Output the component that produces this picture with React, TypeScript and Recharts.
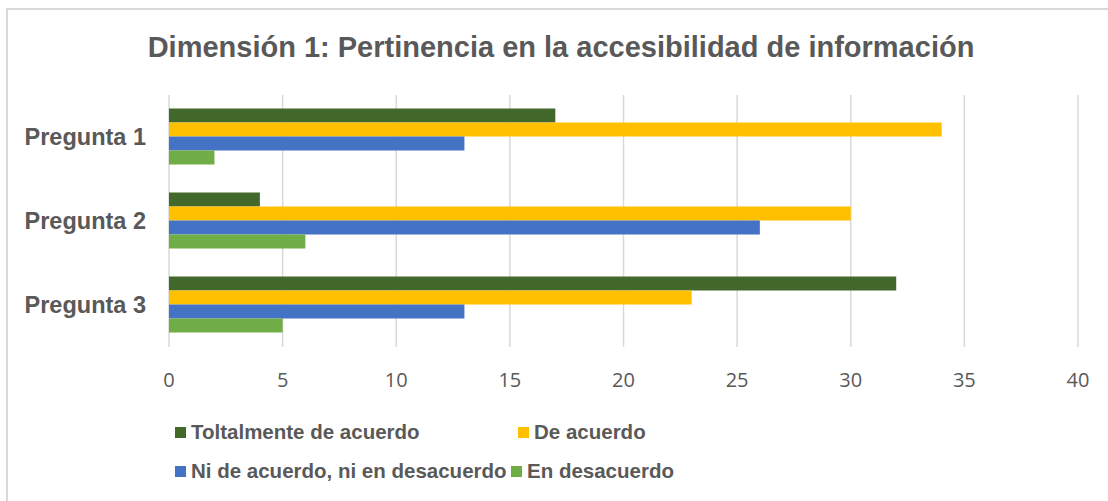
import React from "react";
import { BarChart, Bar, XAxis, YAxis, CartesianGrid } from "recharts";

const categories = ["Pregunta 1", "Pregunta 2", "Pregunta 3"];
const totalmente = [17, 4, 32];
const deAcuerdo = [34, 30, 23];
const ni = [13, 26, 13];
const enDesacuerdo = [2, 6, 5];
const xTicks = [0, 5, 10, 15, 20, 25, 30, 35, 40];

const seriesNames = [
  "Toltalmente de acuerdo",
  "De acuerdo",
  "Ni de acuerdo, ni en desacuerdo",
  "En desacuerdo",
];
const seriesKeys = ["totalmente", "deAcuerdo", "ni", "enDesacuerdo"];
const seriesColors = ["#43682B", "#FFC000", "#4472C4", "#70AD47"];

const data = categories.map((name, i) => ({
  name,
  totalmente: totalmente[i],
  deAcuerdo: deAcuerdo[i],
  ni: ni[i],
  enDesacuerdo: enDesacuerdo[i],
}));

const legendPos = [
  { left: 175, top: 432 },
  { left: 518, top: 432 },
  { left: 175, top: 471 },
  { left: 511, top: 471 },
];

export default function App() {
  return (
    <div
      style={{
        position: "absolute",
        left: 0,
        top: 0,
        width: 1108,
        height: 501,
        overflow: "hidden",
        background: "#fff",
      }}
    >
      <div
        style={{
          position: "absolute",
          left: 6,
          top: 8,
          width: 1200,
          height: 600,
          border: "2px solid #D9D9D9",
          boxSizing: "border-box",
        }}
      />
      <div
        style={{
          position: "absolute",
          left: 0,
          top: 47,
          width: 1122,
          transform: "translateY(-50%)",
          textAlign: "center",
          fontFamily: "'Liberation Sans', Arial, sans-serif",
          fontWeight: "bold",
          fontSize: 29,
          color: "#595959",
          whiteSpace: "nowrap",
        }}
      >
        Dimensión 1: Pertinencia en la accesibilidad de información
      </div>
      <div style={{ position: "absolute", left: 0, top: 0 }}>
        <BarChart
          width={1108}
          height={501}
          data={data}
          layout="vertical"
          margin={{ top: 95, right: 30, left: 0, bottom: 124 }}
          barCategoryGap="16%"
          barGap={0}
        >
          <CartesianGrid horizontal={false} vertical={true} stroke="#D9D9D9" strokeWidth={1.5} />
          <XAxis
            type="number"
            domain={[0, 40]}
            ticks={xTicks}
            axisLine={false}
            tickLine={false}
            tickSize={0}
            tickMargin={26}
            height={30}
            tick={{
              fill: "#595959",
              fontSize: 20,
              fontFamily: "'Open Sans', sans-serif",
            }}
          />
          <YAxis
            type="category"
            dataKey="name"
            width={169}
            axisLine={false}
            tickLine={false}
            tickSize={0}
            tickMargin={23}
            tick={{
              fill: "#595959",
              fontSize: 23.5,
              fontWeight: "bold",
              fontFamily: "'Liberation Sans', Arial, sans-serif",
            }}
          />
          {seriesKeys.map((k, i) => (
            <Bar key={k} dataKey={k} fill={seriesColors[i]} isAnimationActive={false} />
          ))}
        </BarChart>
      </div>
      {seriesNames.map((n, i) => (
        <div
          key={n}
          style={{
            position: "absolute",
            left: legendPos[i].left,
            top: legendPos[i].top,
            transform: "translateY(-50%)",
            display: "flex",
            alignItems: "center",
            fontFamily: "'Liberation Sans', Arial, sans-serif",
            fontWeight: "bold",
            fontSize: 20.5,
            color: "#595959",
            whiteSpace: "nowrap",
          }}
        >
          <span
            style={{
              display: "inline-block",
              width: 11,
              height: 11,
              background: seriesColors[i],
              marginRight: 5,
            }}
          />
          {n}
        </div>
      ))}
    </div>
  );
}
